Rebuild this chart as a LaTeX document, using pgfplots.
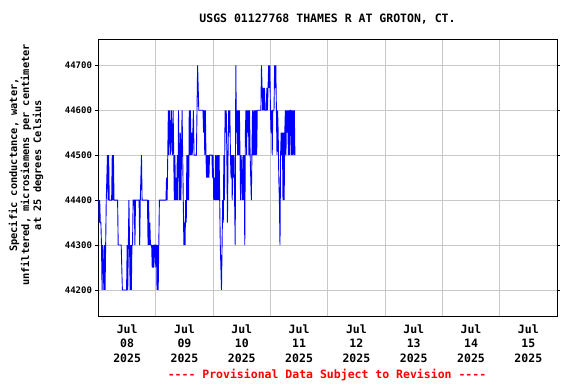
\documentclass[border=0pt]{standalone}
\usepackage{fontspec}
\setmainfont{DejaVu Sans Mono}[Ligatures=TeXOff]
\usepackage{pgfplots}
\pgfplotsset{compat=1.18}
\definecolor{gridgray}{RGB}{200,200,200}
\definecolor{usgsblue}{RGB}{0,0,255}
\definecolor{usgsred}{RGB}{255,0,0}
\begin{document}
\begin{tikzpicture}[x=1pt,y=1pt]
\path[use as bounding box] (0,0) rectangle (576,384);
\begin{axis}[
  scale only axis,
  width=458.5pt, height=276.7pt,
  at={(98.5pt,68pt)}, anchor=south west,
  xmin=0, xmax=192, ymin=44142, ymax=44758,
  xtick={12,36,60,84,108,132,156,180},
  xticklabels={{Jul\\08\\2025},{Jul\\09\\2025},{Jul\\10\\2025},{Jul\\11\\2025},{Jul\\12\\2025},{Jul\\13\\2025},{Jul\\14\\2025},{Jul\\15\\2025}},
  xticklabel style={align=center, font=\fontsize{11.5}{14.5}\selectfont\bfseries, yshift=-2pt},
  major x tick style={draw=none},
  minor xtick={24,48,72,96,120,144,168},
  minor x tick style={draw=none},
  xminorgrids,
  minor grid style={gridgray, line width=0.9pt},
  ytick={44200,44300,44400,44500,44600,44700},
  scaled y ticks=false,
  ymajorgrids,
  major grid style={gridgray, line width=0.9pt},
  yticklabel style={font=\fontsize{9}{10}\selectfont\bfseries, /pgf/number format/fixed, /pgf/number format/1000 sep={}},
  /pgf/number format/assume math mode=true,
  y tick style={black, line width=0.8pt},
  tick align=outside,
  major tick length=3pt,
  axis line style={black, line width=1pt},
  clip=true,
]
\addplot[usgsblue, line width=0.9pt, mark=none] coordinates {
(0,44400) (0.25,44350) (0.5,44400) (0.75,44350) (1.0,44350) (1.25,44300) (1.5,44200) (1.75,44300)
(2.0,44250) (2.25,44200) (2.5,44300) (2.75,44200) (3.0,44300) (3.25,44400) (3.5,44450) (3.75,44500)
(4.0,44400) (4.25,44500) (4.5,44400) (5.5,44400) (5.75,44500) (6.0,44400) (6.25,44500) (6.5,44400)
(8.0,44400) (8.25,44300) (9.5,44300) (9.75,44250) (10.0,44200) (11.75,44200) (12.0,44300) (12.25,44200)
(12.5,44300) (12.75,44400) (13.0,44300) (13.25,44200) (13.5,44300) (13.75,44200) (14.0,44300) (14.25,44300)
(14.5,44400) (15.0,44400) (15.25,44300) (15.5,44400) (17.0,44400) (17.25,44300) (17.5,44400) (17.75,44450)
(18.0,44500) (18.25,44400) (20.5,44400) (20.75,44300) (21.0,44400) (21.25,44300) (21.5,44350) (21.75,44300)
(22.25,44300) (22.5,44250) (22.75,44300) (23.0,44250) (23.25,44300) (23.5,44300) (23.75,44250) (24.0,44300)
(24.25,44300) (24.5,44200) (24.75,44300) (25.0,44200) (25.25,44300) (25.5,44400) (28.25,44400) (28.5,44450)
(28.75,44400) (29.0,44500) (29.25,44600) (29.5,44500) (29.75,44600) (30.0,44550) (30.25,44500) (30.5,44600)
(30.75,44550) (31.0,44500) (31.25,44600) (31.5,44500) (31.75,44400) (32.0,44500) (32.25,44400) (32.5,44450)
(32.75,44400) (33.0,44500) (33.25,44400) (33.5,44600) (33.75,44500) (34.0,44400) (34.25,44550) (34.5,44400)
(34.75,44500) (35.0,44600) (35.25,44500) (35.5,44400) (35.75,44300) (36.0,44350) (36.25,44300) (36.5,44400)
(36.75,44350) (37.0,44500) (37.25,44400) (37.5,44500) (37.75,44400) (38.0,44600) (38.25,44500) (38.5,44600)
(38.75,44500) (39.0,44550) (39.25,44500) (39.5,44550) (39.75,44600) (40.0,44500) (41.0,44500) (41.25,44600)
(41.5,44700) (41.75,44650) (42.0,44600) (43.75,44600) (44.0,44550) (44.25,44600) (44.5,44500) (44.75,44600)
(45.0,44500) (45.25,44450) (45.5,44500) (45.75,44450) (46.0,44500) (46.25,44450) (46.5,44500) (47.5,44500)
(47.75,44450) (48.0,44500) (48.25,44400) (48.5,44450) (48.75,44400) (49.0,44500) (49.25,44400) (49.5,44500)
(49.75,44400) (50.0,44500) (50.25,44400) (50.5,44500) (50.75,44400) (51.0,44300) (51.25,44250) (51.5,44200)
(51.75,44300) (52.0,44400) (52.25,44350) (52.5,44500) (52.75,44400) (53.0,44600) (53.25,44550) (53.5,44600)
(53.75,44500) (54.0,44350) (54.25,44500) (54.5,44600) (54.75,44550) (55.0,44600) (55.25,44500) (55.5,44450)
(55.75,44500) (56.0,44400) (56.25,44500) (56.5,44450) (56.75,44500) (57.0,44400) (57.25,44300) (57.5,44700)
(57.75,44550) (58.0,44600) (58.25,44500) (58.5,44600) (58.75,44500) (59.0,44600) (59.25,44500) (59.5,44400)
(59.75,44500) (60.0,44450) (60.25,44400) (60.5,44500) (60.75,44400) (61.0,44500) (61.25,44300) (61.5,44550)
(61.75,44600) (62.0,44500) (62.25,44600) (62.5,44550) (62.75,44600) (63.0,44500) (63.25,44600) (63.5,44500)
(63.75,44450) (64.0,44400) (64.25,44500) (64.5,44600) (64.75,44500) (65.0,44600) (65.25,44500) (65.5,44600)
(65.75,44500) (66.0,44600) (66.25,44500) (66.5,44600) (68.0,44600) (68.25,44700) (68.5,44650) (68.75,44600)
(69.0,44650) (69.25,44600) (69.5,44650) (69.75,44600) (70.25,44600) (70.5,44650) (70.75,44600) (71.0,44650)
(71.25,44700) (71.5,44650) (71.75,44700) (72.0,44600) (72.25,44550) (72.5,44600) (72.75,44500) (73.0,44600)
(73.5,44600) (73.75,44700) (74.0,44650) (74.25,44700) (74.5,44600) (74.75,44500) (75.0,44600) (75.25,44550)
(75.5,44450) (75.75,44400) (76.0,44300) (76.25,44500) (76.5,44550) (76.75,44500) (77.0,44550) (77.25,44400)
(77.5,44550) (77.75,44400) (78.0,44550) (78.25,44600) (78.5,44500) (78.75,44600) (79.0,44550) (79.25,44600)
(79.5,44500) (79.75,44600) (80.0,44500) (80.25,44600) (80.5,44600) (80.75,44500) (81.0,44600) (81.25,44500)
(81.5,44600) (81.75,44500) (82.0,44600) (82.25,44500)
};
\end{axis}
\node[font=\fontsize{11.5}{13}\selectfont\bfseries] at (327.5,365) {USGS 01127768 THAMES R AT GROTON, CT.};
\node[font=\fontsize{10.3}{12}\selectfont\bfseries, rotate=90, align=center] at (26,219) {Specific conductance, water,\\unfiltered, microsiemens per centimeter\\at 25 degrees Celsius};
\node[font=\fontsize{11.5}{13}\selectfont\bfseries, text=usgsred] at (327,9) {---- Provisional Data Subject to Revision ----};
\end{tikzpicture}
\end{document}
